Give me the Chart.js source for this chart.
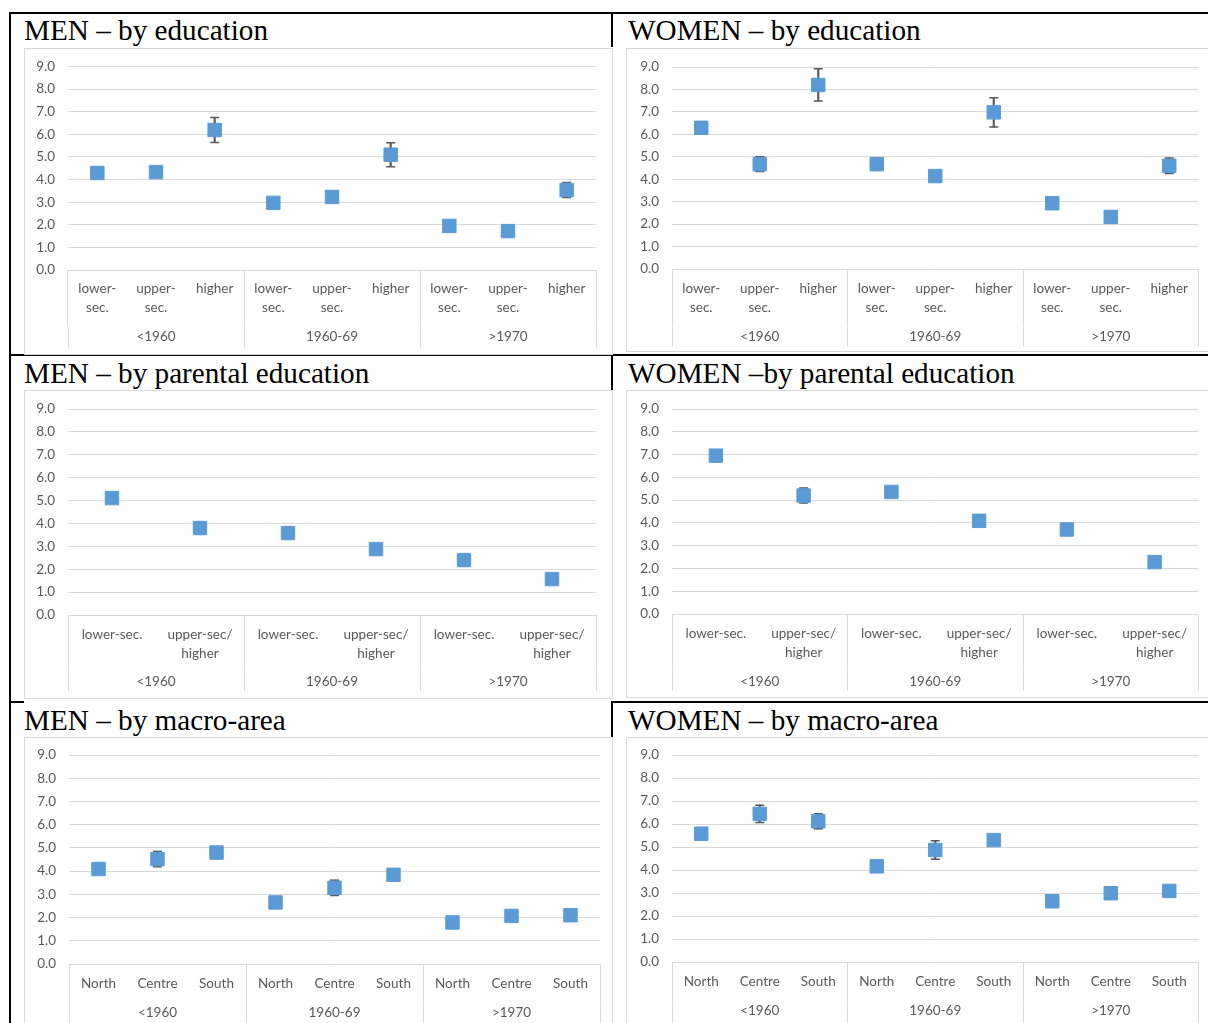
<!DOCTYPE html>
<html>
<head>
<meta charset="utf-8">
<title>Panels by cohort</title>
<script src="https://cdn.jsdelivr.net/npm/chart.js@4.4.1/dist/chart.umd.min.js"></script>
<style>
  html, body { margin: 0; padding: 0; background: #fff; }
  body { width: 1208px; height: 1023px; position: relative; overflow: hidden; }
  .rule { position: absolute; background: #000; }
  .box { position: absolute; border: 1px solid #d9d9d9; background: #fff; box-sizing: border-box; }
  .box canvas { position: absolute; left: 0; top: 0; }
  .title { position: absolute; font-family: "Liberation Serif", "Times New Roman", serif;
           font-size: 29.2px; line-height: 29.2px; color: #000; white-space: nowrap; }
</style>
</head>
<body>
<!-- table rules -->
<div class="rule" style="left:9px;top:12px;width:1199px;height:2px"></div>
<div class="rule" style="left:9px;top:12px;width:2px;height:1011px"></div>
<div class="rule" style="left:611px;top:12px;width:2px;height:35px"></div>
<div class="rule" style="left:9px;top:354px;width:1199px;height:2px"></div>
<div class="rule" style="left:611px;top:354px;width:2px;height:37px"></div>
<div class="rule" style="left:9px;top:701px;width:15px;height:2px"></div>
<div class="rule" style="left:611px;top:701px;width:597px;height:2px"></div>
<div class="rule" style="left:611px;top:701px;width:2px;height:36px"></div>

<script>
// Birth cohorts and category labels
const cohorts = ['<1960', '1960-69', '>1970'];
const eduLabels = [['lower-', 'sec.'], ['upper-', 'sec.'], 'higher'];
const parentLabels = ['lower-sec.', ['upper-sec/', 'higher']];
const areaLabels = ['North', 'Centre', 'South'];
const yTicks = [0, 1, 2, 3, 4, 5, 6, 7, 8, 9];

// Estimates (three cohorts in a row) and their error margins
const menEdu      = [4.29, 4.33, 6.19, 2.97, 3.23, 5.10, 1.95, 1.72, 3.54];
const menEduErr   = [0, 0, 0.55, 0, 0, 0.53, 0, 0, 0.33];
const womenEdu    = [6.29, 4.67, 8.20, 4.67, 4.14, 6.98, 2.93, 2.32, 4.60];
const womenEduErr = [0, 0.33, 0.72, 0, 0, 0.65, 0, 0, 0.34];

const menPar      = [5.11, 3.80, 3.58, 2.88, 2.40, 1.57];
const menParErr   = [0, 0, 0, 0, 0, 0];
const womenPar    = [6.95, 5.20, 5.36, 4.09, 3.71, 2.28];
const womenParErr = [0, 0.33, 0, 0, 0, 0];

const menArea      = [4.09, 4.52, 4.80, 2.65, 3.28, 3.84, 1.79, 2.07, 2.10];
const menAreaErr   = [0, 0.33, 0, 0, 0.33, 0, 0, 0, 0];
const womenArea    = [5.58, 6.44, 6.12, 4.16, 4.87, 5.30, 2.64, 2.99, 3.09];
const womenAreaErr = [0, 0.38, 0.33, 0, 0.40, 0, 0, 0, 0];

const GRID = '#d9d9d9';
const TEXT = '#595959';
const BLUE = '#5b9bd5';
const WHISKER = '#595959';
const LH = 19;
const FAMILY = 'Lato, "Open Sans", sans-serif';
const FONT = { family: FAMILY, size: 13.5, lineHeight: LH + 'px' };
const YFONT = { family: FAMILY, size: 13.5 };

// Panel frames: box = [left, top, right, bottom], area = plot [left, right, top, bottom]
const panels = [
  { title: 'MEN – by education', cats: eduLabels, values: menEdu, err: menEduErr,
    tx: 24, ty: 16.3, box: [24, 48, 613, 355], area: [68, 596, 66.5, 270], labY: 289, grpY: 337, sepB: 348 },
  { title: 'WOMEN – by education', cats: eduLabels, values: womenEdu, err: womenEduErr,
    tx: 628, ty: 16.3, box: [626, 48, 1210, 352], area: [672, 1200, 67, 269], labY: 289, grpY: 337, sepB: 347 },
  { title: 'MEN – by parental education', cats: parentLabels, values: menPar, err: menParErr,
    tx: 24, ty: 359, box: [24, 390, 613, 699], area: [68, 596, 409, 615], labY: 635, grpY: 682, sepB: 691 },
  { title: 'WOMEN –by parental education', cats: parentLabels, values: womenPar, err: womenParErr,
    tx: 628, ty: 359, box: [626, 390, 1210, 698], area: [672, 1200, 409, 614], labY: 634, grpY: 682, sepB: 691 },
  { title: 'MEN – by macro-area', cats: areaLabels, values: menArea, err: menAreaErr,
    tx: 24, ty: 705.5, box: [24, 737, 613, 1040], area: [69, 600, 755, 964], labY: 984, grpY: 1013, sepB: 1040 },
  { title: 'WOMEN – by macro-area', cats: areaLabels, values: womenArea, err: womenAreaErr,
    tx: 628, ty: 705.5, box: [626, 737, 1210, 1040], area: [672, 1202, 755, 962], labY: 982, grpY: 1011, sepB: 1040 }
];

panels.forEach(p => {
  const [bl, bt, br, bb] = p.box;
  const [al, ar, at, ab] = p.area;

  const title = document.createElement('div');
  title.className = 'title';
  title.style.left = p.tx + 'px';
  title.style.top = p.ty + 'px';
  title.textContent = p.title;
  document.body.appendChild(title);

  const box = document.createElement('div');
  box.className = 'box';
  box.style.left = bl + 'px';
  box.style.top = bt + 'px';
  box.style.width = (br - bl) + 'px';
  box.style.height = (bb - bt) + 'px';
  const cw = br - bl - 2, ch = bb - bt - 2;
  const cv = document.createElement('canvas');
  cv.width = cw; cv.height = ch;
  cv.style.width = cw + 'px'; cv.style.height = ch + 'px';
  box.appendChild(cv);
  document.body.appendChild(box);

  // Category row sits in the first x axis, cohort row in the second one;
  // each axis box must hold its own labels, and the group separators are
  // the offset grid ticks of both axes joined end to end.
  const ox = bl + 1, oy = bt + 1;
  const H1 = p.grpY - ab - LH / 2 - 1;
  const H2 = 24;
  const T1 = H1;
  const pad1 = p.labY - ab - T1 - LH / 2;
  const T2 = p.sepB - ab - H1;
  const pad2 = p.grpY - ab - H1 - T2 - LH / 2;
  const padBottom = Math.max(0, (oy + ch) - (ab + H1 + H2));
  const perGroup = p.cats.length;

  const labels = cohorts.flatMap(() => p.cats);
  const whiskers = p.values.map((v, i) => p.err[i] ? [v - p.err[i], v + p.err[i]] : null);
  const capsHi = p.values.map((v, i) => p.err[i] ? v + p.err[i] : null);
  const capsLo = p.values.map((v, i) => p.err[i] ? v - p.err[i] : null);

  // error-bar caps sit behind the markers, like the whiskers
  const capSet = data => ({
    type: 'line', data, showLine: false, pointStyle: 'line',
    pointRadius: 4.5, pointHoverRadius: 4.5, borderColor: WHISKER, borderWidth: 1.5, order: 2
  });

  new Chart(cv, {
    type: 'line',
    data: {
      labels,
      datasets: [
        { type: 'line', data: p.values, showLine: false, pointStyle: 'rect',
          pointRadius: 9.5, pointHoverRadius: 9.5, backgroundColor: BLUE,
          borderColor: BLUE, pointBorderWidth: 1, order: 0 },
        capSet(capsHi),
        capSet(capsLo),
        { type: 'bar', data: whiskers, backgroundColor: WHISKER, barThickness: 1.5, order: 3 }
      ]
    },
    options: {
      responsive: false,
      animation: false,
      devicePixelRatio: 1,
      events: [],
      layout: { padding: { left: 0, right: ox + cw - ar, top: at - oy, bottom: padBottom } },
      plugins: { legend: { display: false }, tooltip: { enabled: false } },
      scales: {
        x: {
          type: 'category', position: 'bottom', weight: 0, offset: true,
          grid: { offset: true, drawOnChartArea: false, drawTicks: true, tickLength: T1, lineWidth: 1,
                  color: c => (c.index === undefined || c.index % perGroup === 0) ? GRID : 'rgba(0,0,0,0)' },
          border: { display: false },
          ticks: { color: TEXT, font: FONT, padding: pad1, maxRotation: 0, minRotation: 0, autoSkip: false },
          afterFit: s => { s.height = H1; }
        },
        x2: {
          type: 'category', position: 'bottom', weight: 1, offset: true, labels: cohorts,
          grid: { offset: true, drawOnChartArea: false, drawTicks: true, tickLength: T2, lineWidth: 1, color: GRID },
          border: { display: false },
          ticks: { color: TEXT, font: FONT, padding: pad2, maxRotation: 0, minRotation: 0, autoSkip: false },
          afterFit: s => { s.height = H2; }
        },
        y: {
          min: yTicks[0], max: yTicks[yTicks.length - 1],
          afterBuildTicks: s => { s.ticks = yTicks.map(v => ({ value: v })); },
          ticks: { color: TEXT, font: YFONT, padding: 13, autoSkip: false,
                   callback: v => Number(v).toFixed(1) },
          grid: { color: GRID, lineWidth: 1, drawTicks: false },
          border: { display: false },
          afterFit: s => { s.width = al - ox; s.paddingTop = 0; s.paddingBottom = 0; }
        }
      }
    }
  });
});
</script>
</body>
</html>
